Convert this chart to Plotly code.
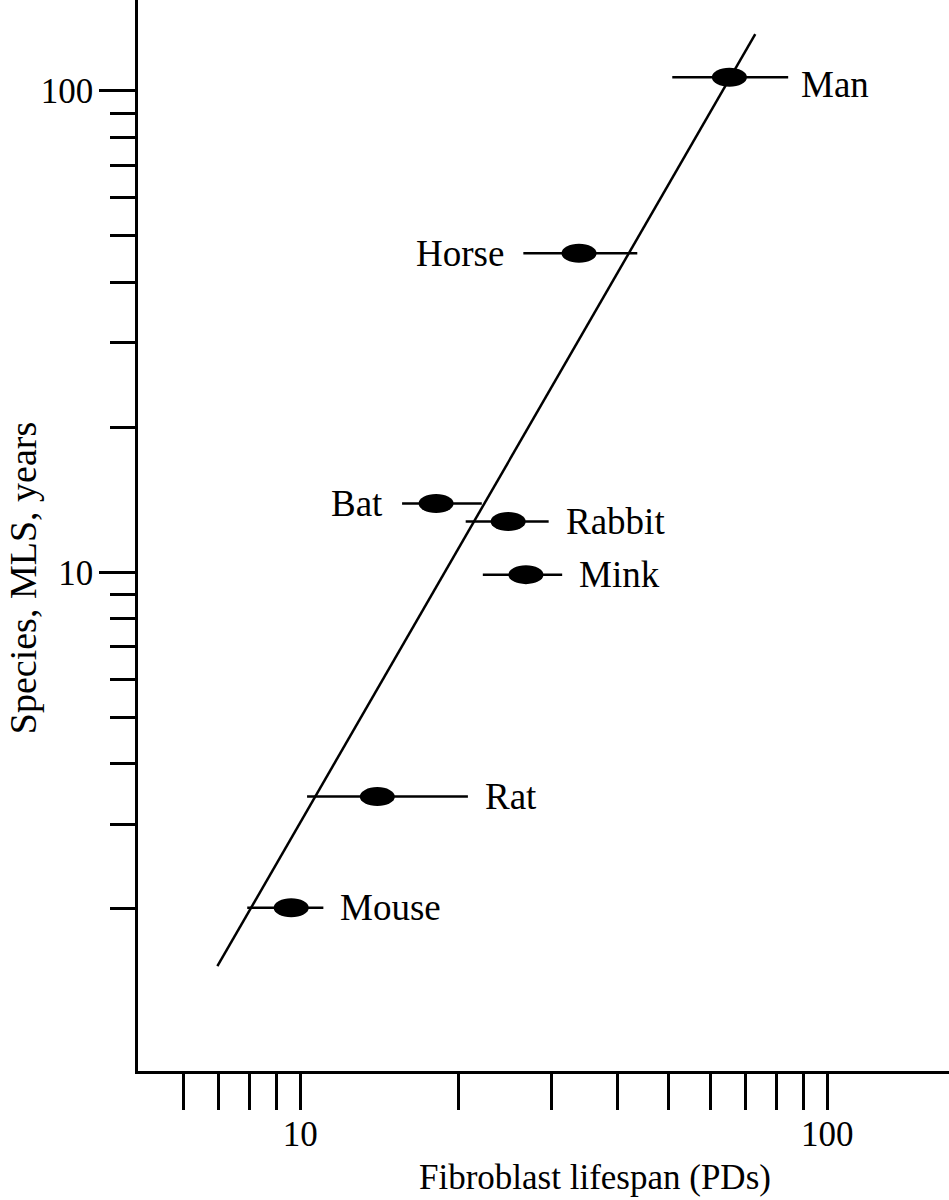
import numpy as np
import plotly.graph_objects as go

# ---- data ----
species = ["Man", "Horse", "Bat", "Rabbit", "Mink", "Rat", "Mouse"]
pd_mean = [65.2, 33.8, 18.1, 24.8, 26.8, 14.0, 9.61]      # fibroblast lifespan (PDs)
pd_low = [50.8, 26.5, 15.6, 20.6, 22.2, 10.3, 7.93]
pd_high = [84.3, 43.6, 22.1, 29.6, 31.4, 20.8, 11.06]
mls_years = [106.8, 46.0, 13.9, 12.75, 9.89, 3.42, 2.01]   # species MLS, years
label_side = ["right", "left", "left", "right", "right", "right", "right"]

fit_x = [6.96, 73.0]
fit_y = [1.52, 131.2]

x_tickvals = [6, 7, 8, 9, 10, 20, 30, 40, 50, 60, 70, 80, 90, 100]
x_ticktext = ["", "", "", "", "10", "", "", "", "", "", "", "", "", "100"]
y_major = [10, 100]
y_minor = [2, 3, 4, 5, 6, 7, 8, 9, 20, 30, 40, 50, 60, 70, 80, 90]

FONT = "Liberation Serif, Times New Roman, serif"
LW = 2.5
X_RANGE = [0.692, 2.231]
Y_RANGE = [-0.036, 2.189]
MARGIN = dict(l=138, r=0, t=0, b=129)
W, H = 949, 1200

# ellipse half-size in pixels (style), converted to log-axis factors
plot_w = W - MARGIN["l"] - MARGIN["r"]
plot_h = H - MARGIN["t"] - MARGIN["b"]
px_per_dec_x = plot_w / (X_RANGE[1] - X_RANGE[0])
px_per_dec_y = plot_h / (Y_RANGE[1] - Y_RANGE[0])
EX, EY = 17.5, 9.5
fx = 10 ** (EX / px_per_dec_x)
fy = 10 ** (EY / px_per_dec_y)

fig = go.Figure()

# regression line
fig.add_trace(go.Scatter(x=fit_x, y=fit_y, mode="lines",
                         line=dict(color="black", width=LW), hoverinfo="skip"))

# horizontal error bars
fig.add_trace(go.Scatter(
    x=pd_mean, y=mls_years, mode="markers",
    marker=dict(size=2, color="black"),
    error_x=dict(type="data", symmetric=False,
                 array=[h - m for h, m in zip(pd_high, pd_mean)],
                 arrayminus=[m - l for m, l in zip(pd_mean, pd_low)],
                 width=0, thickness=LW, color="black"),
))

# elliptical markers
for xm, ym in zip(pd_mean, mls_years):
    fig.add_shape(type="circle", xref="x", yref="y",
                  x0=xm / fx, x1=xm * fx, y0=ym / fy, y1=ym * fy,
                  fillcolor="black", line=dict(color="black", width=0))

# species labels
yshift_style = {"Man": -7}
xshift_style = {"Man": 11}
for name, lo, hi, ym, side in zip(species, pd_low, pd_high, mls_years, label_side):
    if side == "right":
        ax_x, anchor, shift = np.log10(hi), "left", xshift_style.get(name, 15)
    else:
        ax_x, anchor, shift = np.log10(lo), "right", -17
    fig.add_annotation(x=ax_x, y=np.log10(ym), xref="x", yref="y",
                       text=name, showarrow=False, xanchor=anchor, yanchor="middle",
                       xshift=shift, yshift=yshift_style.get(name, 0),
                       font=dict(family=FONT, size=37, color="black"))

# axis titles
fig.add_annotation(x=0.564, y=-0.099, xref="paper", yref="paper",
                   text="Fibroblast lifespan (PDs)", showarrow=False,
                   xanchor="center", yanchor="middle",
                   font=dict(family=FONT, size=35, color="black"))
fig.add_annotation(x=-0.1416, y=0.4603, xref="paper", yref="paper",
                   text="Species, MLS, years", showarrow=False, textangle=-90,
                   xanchor="center", yanchor="middle",
                   font=dict(family=FONT, size=38, color="black"))

fig.update_xaxes(type="log", range=X_RANGE,
                 showline=True, linecolor="black", linewidth=LW, mirror=False,
                 showgrid=False, zeroline=False,
                 tickmode="array", tickvals=x_tickvals, ticktext=x_ticktext,
                 ticks="outside", ticklen=36, tickwidth=LW, tickcolor="black",
                 ticklabelstandoff=-6,
                 tickfont=dict(family=FONT, size=35, color="black"))
fig.update_yaxes(type="log", range=Y_RANGE,
                 showline=True, linecolor="black", linewidth=LW, mirror=False,
                 showgrid=False, zeroline=False,
                 tickmode="array", tickvals=y_major, ticktext=["10", "100"],
                 ticks="outside", ticklen=36, tickwidth=LW, tickcolor="black",
                 ticklabelstandoff=-1,
                 tickfont=dict(family=FONT, size=35, color="black"),
                 minor=dict(tickmode="array", tickvals=y_minor, ticks="outside",
                            ticklen=25, tickwidth=LW, tickcolor="black", showgrid=False))

fig.update_layout(width=W, height=H, margin=MARGIN,
                  plot_bgcolor="white", paper_bgcolor="white",
                  showlegend=False)

fig.write_html("out.html", config={"displayModeBar": False},
               post_script="document.body.style.margin='0';document.body.style.overflow='hidden';")
